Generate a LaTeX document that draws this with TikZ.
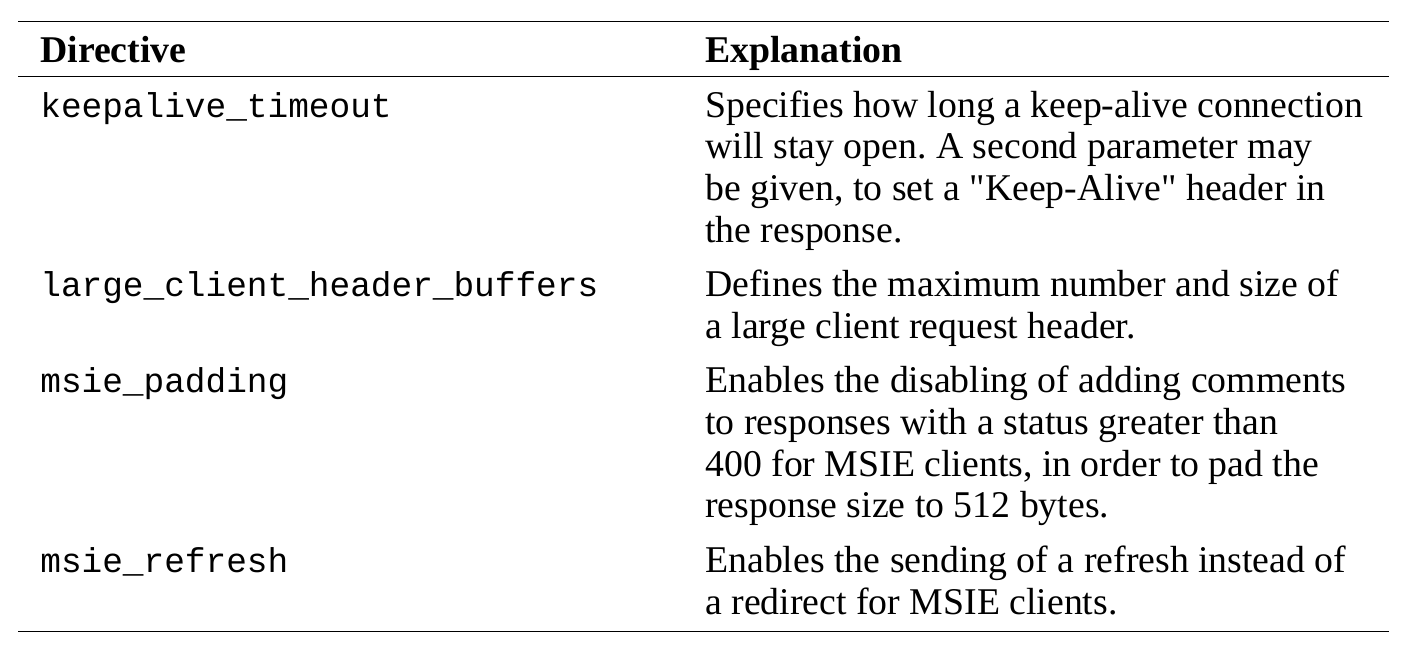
\documentclass[tikz,border=0pt]{standalone}
\usepackage{fontspec}
\setmainfont{Liberation Serif}
\setmonofont{Liberation Mono}
\newfontfamily\explfont{Liberation Serif}
\frenchspacing
\tikzset{
	rule/.style={line width=0.7pt},
	head/.style={anchor=base west, inner sep=0pt, font=\fontsize{21.5}{25}\selectfont\bfseries},
	dir/.style={anchor=base west, inner sep=0pt, font=\fontsize{19.6}{24}\selectfont\ttfamily},
	expl/.style={anchor=base west, inner sep=0pt, font=\fontsize{21.5}{25}\selectfont\explfont},
}
\begin{document}
\begin{tikzpicture}[x=0.02cm, y=-0.02cm]
		\useasboundingbox (0,0) rectangle (1426,654);
		% rules
		\coordinate (toprule-l) at (18,21.7);   \coordinate (toprule-r) at (1389,21.7);
		\coordinate (midrule-l) at (18,76.7);   \coordinate (midrule-r) at (1389,76.7);
		\coordinate (botrule-l) at (18,631.3);  \coordinate (botrule-r) at (1389,631.3);
		\draw[rule] (toprule-l) -- (toprule-r);
		\draw[rule] (midrule-l) -- (midrule-r);
		\draw[rule] (botrule-l) -- (botrule-r);
		% header
		\node[head] (hdirective) at (40,62) {Directive};
		\node[head] (hexplanation) at (705,62) {Explanation};
		% rows
		\node[dir] (keepalive) at (40,117) {keepalive\_timeout};
		\foreach \ln [count=\i] in {{Specifies how long a keep-alive connection},
				{will stay open. A second parameter may},
				{be given, to set a "Keep-Alive" header in},
				{the response.}}
			\node[expl] (keepalive-\i) at (705,{117+(\i-1)*41.7}) {\ln};
		\node[dir] (largebuf) at (40,296.5) {large\_client\_header\_buffers};
		\foreach \ln [count=\i] in {{Defines the maximum number and size of},
				{a large client request header.}}
			\node[expl] (largebuf-\i) at (705,{296.5+(\i-1)*41.7}) {\ln};
		\node[dir] (padding) at (40,392.7) {msie\_padding};
		\foreach \ln [count=\i] in {{Enables the disabling of adding comments},
				{to responses with a status greater than},
				{400 for MSIE clients, in order to pad the},
				{response size to 512 bytes.}}
			\node[expl] (padding-\i) at (705,{392.7+(\i-1)*41.7}) {\ln};
		\node[dir] (refresh) at (40,572.3) {msie\_refresh};
		\foreach \ln [count=\i] in {{Enables the sending of a refresh instead of},
				{a redirect for MSIE clients.}}
			\node[expl] (refresh-\i) at (705,{572.3+(\i-1)*41.7}) {\ln};
	\end{tikzpicture}
\end{document}
